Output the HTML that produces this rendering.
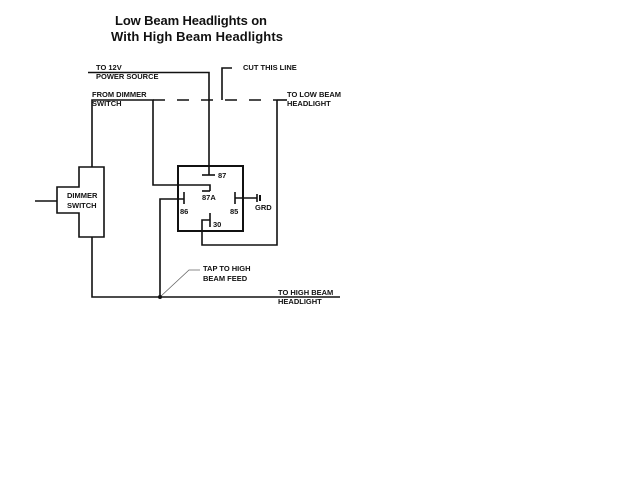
<!DOCTYPE html>
<html><head><style>
html,body{margin:0;padding:0;background:#fff;}
svg{display:block;}
text{font-family:"Liberation Sans",sans-serif;fill:#111;}
.l{font-size:7.5px;font-weight:bold;}
.t{font-size:13px;font-weight:bold;}
</style></head><body>
<svg width="640" height="477" viewBox="0 0 640 477" xmlns="http://www.w3.org/2000/svg">
<text class="t" x="115" y="25" textLength="152">Low Beam Headlights on</text>
<text class="t" x="111" y="41" textLength="172">With High Beam Headlights</text>
<g stroke="#111" stroke-width="1.6" fill="none">
<polyline points="88,72.5 209,72.5 209,175"/>
<line x1="202" y1="175" x2="215" y2="175"/>
<polyline points="92,167 92,100 153,100 153,185 210,185 210,191"/>
<line x1="202" y1="191" x2="210" y2="191"/>
<line x1="153" y1="100" x2="277" y2="100" stroke-dasharray="12,12"/>
<polyline points="277,100 287,100"/>
<polyline points="210,213 210,227"/>
<polyline points="210,220 202,220 202,245 277,245 277,100"/>
<polyline points="222,100 222,68 232,68"/>
<polygon points="79,167 104,167 104,237 79,237 79,213 57,213 57,187 79,187"/>
<line x1="35" y1="201" x2="57" y2="201"/>
<polyline points="92,237 92,297 340,297"/>
<polyline points="160,297 160,199 184,199"/>
<line x1="184" y1="192" x2="184" y2="204"/>
<line x1="235" y1="192" x2="235" y2="204"/>
<line x1="235" y1="198" x2="257" y2="198"/>
<line x1="257" y1="194" x2="257" y2="202"/>
<line x1="260" y1="195" x2="260" y2="201" stroke-width="2"/>
<polyline points="160,297 189,270 200,270" stroke-width="0.8" stroke="#666"/>
</g>
<rect x="178" y="166" width="65" height="65" fill="none" stroke="#111" stroke-width="2"/>
<circle cx="160" cy="297" r="2" fill="#111"/>
<g class="l">
<text class="l" x="96" y="70">TO 12V</text>
<text class="l" x="96" y="79">POWER SOURCE</text>
<text class="l" x="92" y="97">FROM DIMMER</text>
<text class="l" x="92" y="106">SWITCH</text>
<text class="l" x="243" y="70">CUT  THIS  LINE</text>
<text class="l" x="287" y="97">TO LOW BEAM</text>
<text class="l" x="287" y="106">HEADLIGHT</text>
<text class="l" x="67" y="198">DIMMER</text>
<text class="l" x="67" y="208">SWITCH</text>
<text class="l" x="218" y="178">87</text>
<text class="l" x="202" y="200">87A</text>
<text class="l" x="180" y="214">86</text>
<text class="l" x="230" y="214">85</text>
<text class="l" x="255" y="210">GRD</text>
<text class="l" x="213" y="227">30</text>
<text class="l" x="203" y="271">TAP TO HIGH</text>
<text class="l" x="203" y="281">BEAM FEED</text>
<text class="l" x="278" y="295">TO HIGH BEAM</text>
<text class="l" x="278" y="304">HEADLIGHT</text>
</g>
</svg>
</body></html>
